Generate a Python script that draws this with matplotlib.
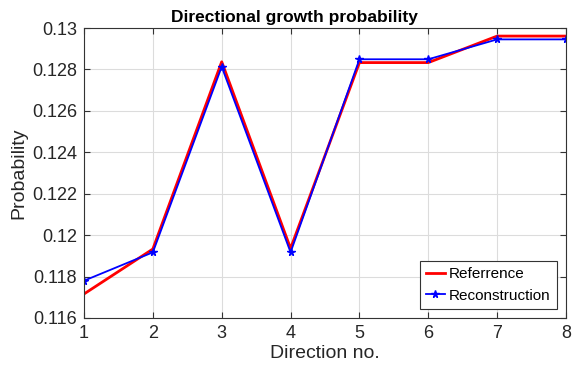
import matplotlib
matplotlib.use("Agg")
import matplotlib.pyplot as plt

directions = [1, 2, 3, 4, 5, 6, 7, 8]
reference = [0.11716, 0.11933, 0.12837, 0.11936, 0.12833, 0.12833, 0.12961, 0.12961]
reconstruction = [0.1178, 0.11917, 0.12813, 0.11917, 0.12849, 0.12849, 0.12945, 0.12945]
yticks = [0.116, 0.118, 0.12, 0.122, 0.124, 0.126, 0.128, 0.13]
ytick_labels = ["0.116", "0.118", "0.12", "0.122", "0.124", "0.126", "0.128", "0.13"]

plt.rcParams['font.family'] = ['Liberation Sans', 'DejaVu Sans']
fig = plt.figure(figsize=(5.77, 3.74), dpi=100)
ax = fig.add_axes([84/577, 1-318/374, (566-84)/577, (318-28)/374])

ax.plot(directions, reference, color='#ff0000', lw=2.0, label='Referrence')
ax.plot(directions, reconstruction, color='#0000ff', lw=1.3, marker='*', ms=5.5,
        label='Reconstruction')

ax.set_xlim(1, 8)
ax.set_ylim(0.116, 0.13)
ax.set_xticks(directions)
ax.set_yticks(yticks)
ax.set_yticklabels(ytick_labels)
ax.grid(True, color='#dcdcdc', lw=0.8)
ax.tick_params(direction='in', labelsize=13, top=True, right=True, length=4,
               color='#333333', labelcolor='#262626', pad=5)
for s in ax.spines.values():
    s.set_color('#333333')
    s.set_linewidth(0.8)

ax.set_title('Directional growth probability', fontsize=12.5, fontweight='bold',
             pad=4, x=0.436)
ax.set_xlabel('Direction no.', fontsize=14, color='#262626', labelpad=2)
ax.set_ylabel('Probability', fontsize=14, color='#262626', labelpad=3)

leg = ax.legend(loc='lower right', fontsize=11, handlelength=1.2, handletextpad=0.3,
                fancybox=False, framealpha=1, edgecolor='#333333',
                borderaxespad=0.6, labelspacing=0.5)
leg.get_frame().set_linewidth(0.8)

fig.savefig('out.png', dpi=100)
